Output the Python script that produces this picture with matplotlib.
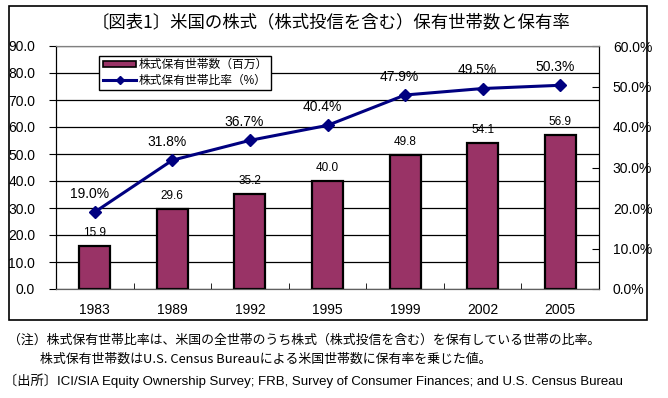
import numpy as np
import matplotlib
matplotlib.use("Agg")
import matplotlib.pyplot as plt
from matplotlib.patches import Rectangle, Patch
from matplotlib.lines import Line2D
from matplotlib.ticker import FuncFormatter, MultipleLocator

plt.rcParams['font.family'] = ['Liberation Sans', 'Noto Sans CJK JP', 'DejaVu Sans']

# データ
years = ['1983', '1989', '1992', '1995', '1999', '2002', '2005']
households = [15.9, 29.6, 35.2, 40.0, 49.8, 54.1, 56.9]   # 百万世帯
ratio = [19.0, 31.8, 36.7, 40.4, 47.9, 49.5, 50.3]        # %

title = '〔図表1〕米国の株式（株式投信を含む）保有世帯数と保有率'
bar_label = '株式保有世帯数（百万）'
line_label = '株式保有世帯比率（%）'
note1 = '（注）株式保有世帯比率は、米国の全世帯のうち株式（株式投信を含む）を保有している世帯の比率。'
note2 = '株式保有世帯数はU.S. Census Bureauによる米国世帯数に保有率を乗じた値。'
source = '〔出所〕ICI/SIA Equity Ownership Survey; FRB, Survey of Consumer Finances; and U.S. Census Bureau'

BAR_COLOR = '#993366'
LINE_COLOR = '#000080'


def main():
    fig = plt.figure(figsize=(6.68, 3.98), dpi=100)

    # 外枠
    fig.patches.append(Rectangle((9 / 668, 1 - 320 / 398), 638 / 668, 314 / 398,
                                 transform=fig.transFigure, fill=False,
                                 edgecolor='black', linewidth=1.2))

    ax = fig.add_axes([56 / 668, 1 - 289 / 398, 543 / 668, 243 / 398])
    ax2 = ax.twinx()
    ax.set_zorder(ax2.get_zorder() + 1)
    ax.patch.set_visible(False)

    x = np.arange(len(years))

    # 棒グラフ（左軸）
    bars = ax2.bar(x, households, width=0.4, color=BAR_COLOR, edgecolor='black',
                   linewidth=1.6, zorder=3)
    ax2.set_ylim(0, 90)
    ax2.yaxis.set_major_locator(MultipleLocator(10))
    for b, v in zip(bars, households):
        ax2.annotate(f'{v:.1f}', (b.get_x() + b.get_width() / 2, v),
                     xytext=(0, 5), textcoords='offset points',
                     ha='center', va='bottom', fontsize=8.5)

    # 折れ線（右軸）
    ax.plot(x, ratio, color=LINE_COLOR, linewidth=2.2, marker='D', markersize=6.5,
            zorder=5)
    ax.set_ylim(0, 60)
    ax.yaxis.set_major_locator(MultipleLocator(10))
    for xi, v in zip(x, ratio):
        ax.annotate(f'{v:.1f}%', (xi, v), xytext=(-4, 8), textcoords='offset points',
                    ha='center', va='bottom', fontsize=10)

    # 左右の軸を入れ替え（棒=左、線=右）
    ax2.yaxis.tick_left()
    ax.yaxis.tick_right()
    ax2.yaxis.set_major_formatter(FuncFormatter(lambda v, p: f'{v:.1f}'))
    ax.yaxis.set_major_formatter(FuncFormatter(lambda v, p: f'{v:.1f}%'))
    ax2.tick_params(axis='y', direction='out', length=5, labelsize=10, pad=10)
    ax.tick_params(axis='y', direction='in', length=5, labelsize=10, pad=10,
                   left=False, labelleft=False, right=True, labelright=True)

    # グリッド
    ax2.grid(axis='y', color='black', linewidth=0.9, zorder=0)
    ax2.set_axisbelow(True)

    ax.set_xlim(-0.5, len(years) - 0.5)
    ax2.set_xlim(-0.5, len(years) - 0.5)
    ax.set_xticks(x)
    ax.set_xticklabels(years, fontsize=10)
    ax.tick_params(axis='x', length=0, pad=10)
    ax.set_xticks(np.arange(0.5, len(years) - 1, 1), minor=True)
    ax.tick_params(axis='x', which='minor', direction='in', length=4)
    ax2.tick_params(axis='x', bottom=False)

    for a in (ax, ax2):
        for s in ('left', 'right'):
            a.spines[s].set_color('black')
        a.spines['top'].set_color('#808080')
        a.spines['bottom'].set_color('#606060')

    # 凡例
    handles = [Patch(facecolor=BAR_COLOR, edgecolor='black', linewidth=1.2),
               Line2D([], [], color=LINE_COLOR, linewidth=2.2, marker='D', markersize=4.5)]
    leg = ax.legend(handles, [bar_label, line_label], loc='upper left',
                    bbox_to_anchor=(0.08, 0.96), fontsize=8.5, frameon=True,
                    fancybox=False, edgecolor='black', framealpha=1,
                    handlelength=2.8, handleheight=0.5, borderpad=0.3,
                    labelspacing=0.3, handletextpad=0.2, borderaxespad=0)
    leg.get_frame().set_linewidth(1.0)

    # タイトルと注記
    fig.text(331 / 668, 1 - 22 / 398, title, ha='center', va='center', fontsize=12.5,
             family=['Noto Sans CJK JP', 'DejaVu Sans'])
    fig.text(8 / 668, 1 - 340 / 398, note1, ha='left', va='center', fontsize=9.3,
             family=['Noto Sans CJK JP', 'DejaVu Sans'])
    fig.text(40 / 668, 1 - 359 / 398, note2, ha='left', va='center', fontsize=9.3,
             family=['Noto Sans CJK JP', 'DejaVu Sans'])
    fig.text(4 / 668, 1 - 381 / 398, source, ha='left', va='center', fontsize=9.5,
             family=['Liberation Sans', 'Noto Sans CJK JP', 'DejaVu Sans'])

    fig.savefig('out.png', dpi=100)


if __name__ == "__main__":
    main()
